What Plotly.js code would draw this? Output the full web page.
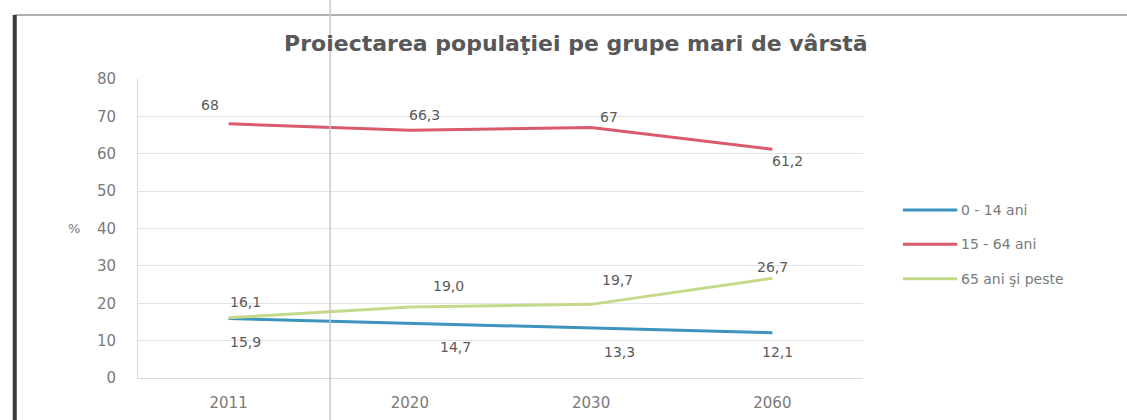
<!DOCTYPE html>
<html>
<head>
<meta charset="utf-8">
<script src="https://cdn.plot.ly/plotly-3.0.1.min.js"></script>
<style>
html,body{margin:0;padding:0;background:#fff;}
#chart{width:1127px;height:420px;}
</style>
</head>
<body>
<div id="chart"></div>
<script>
const years = ['2011', '2020', '2030', '2060'];
const seriesNames = ['0 - 14 ani', '15 - 64 ani', '65 ani şi peste'];
const age0to14 = [15.9, 14.7, 13.3, 12.1];
const age15to64 = [68, 66.3, 67, 61.2];
const age65plus = [16.1, 19.0, 19.7, 26.7];
const yTicks = [0, 10, 20, 30, 40, 50, 60, 70, 80];

const colors = ['#3c93bd', '#d95a6c', '#c4d98a'];
const seriesValues = [age0to14, age15to64, age65plus];
const decimals = [1, null, 1];
// label placement: +1 above, -1 below ; horizontal nudge and vertical distance in px
const labelSide = [[-1, -1, -1, -1], [1, 1, 1, -1], [1, 1, 1, 1]];
const labelDx = [[17, 46, 28, 5], [-19, 15, 18, 15], [17, 39, 26, 0]];
const labelDy = [[23, 24, 24, 19], [19, 15, 11, 12], [16, 21, 24, 11]];

function fmt(v, d) {
  const s = d === null ? String(v) : v.toFixed(d);
  return s.replace('.', ',');
}

const traces = seriesValues.map((vals, i) => ({
  type: 'scatter',
  mode: 'lines',
  x: years,
  y: vals,
  name: seriesNames[i],
  line: {color: colors[i], width: 3},
  hoverinfo: 'skip',
  showlegend: false
}));

const annotations = [];
seriesValues.forEach((vals, i) => {
  vals.forEach((v, j) => {
    annotations.push({
      x: j, y: v, xref: 'x', yref: 'y',
      text: fmt(v, decimals[i]),
      showarrow: false,
      xshift: labelDx[i][j],
      yshift: labelSide[i][j] * labelDy[i][j],
      font: {family: 'DejaVu Sans', size: 14, color: '#5a5a5a'}
    });
  });
});
annotations.push({
  xref: 'paper', yref: 'y', x: -0.099, y: 40, text: '%', showarrow: false,
  font: {family: 'DejaVu Sans', size: 13, color: '#7a7a7a'}
});

// manual legend (line sample + name), placed to the right of the plot
const legendX0 = 1.055, legendX1 = 1.13, legendTop = 0.562, legendStep = 0.115;
const shapes = [];
seriesNames.forEach((name, i) => {
  const yy = legendTop - i * legendStep;
  shapes.push({type: 'line', xref: 'paper', yref: 'paper',
    x0: legendX0, x1: legendX1, y0: yy, y1: yy,
    line: {color: colors[i], width: 3}});
  annotations.push({xref: 'paper', yref: 'paper', x: legendX1 + 0.003, y: yy,
    xanchor: 'left', yanchor: 'middle', text: name, showarrow: false,
    font: {family: 'DejaVu Sans', size: 14, color: '#7a7a7a'}});
});

// frame remnants of the scanned chart
shapes.push(
  {type: 'line', xref: 'paper', yref: 'paper', x0: -0.17, x1: 1.37, y0: 1.214, y1: 1.214,
   line: {color: '#b0b0b0', width: 2}},
  {type: 'line', xref: 'paper', yref: 'paper', x0: -0.17, x1: -0.17, y0: 1.214, y1: -0.2,
   line: {color: '#3a3a3a', width: 4}},
  {type: 'line', xref: 'paper', yref: 'paper', x0: 0.265, x1: 0.265, y0: 1.3, y1: -0.2,
   line: {color: '#c8c8c8', width: 1.5}}
);

const layout = {
  width: 1127, height: 420,
  margin: {l: 138, r: 264, t: 79, b: 42},
  paper_bgcolor: '#ffffff',
  plot_bgcolor: '#ffffff',
  showlegend: false,
  title: {
    text: 'Proiectarea populaţiei pe grupe mari de vârstă',
    xref: 'container', yref: 'container',
    x: 0.511, y: 0.898, xanchor: 'center', yanchor: 'middle',
    font: {family: 'DejaVu Sans', size: 22, color: '#585858', weight: 'bold'}
  },
  xaxis: {
    type: 'category',
    range: [-0.5, 3.5],
    autorange: false,
    showgrid: false, zeroline: false,
    showline: true, linecolor: '#d9d9d9', linewidth: 1,
    ticks: '',
    tickangle: 0,
    ticklabelstandoff: 11,
    tickfont: {family: 'DejaVu Sans', size: 15, color: '#7a7a7a'},
    fixedrange: true
  },
  yaxis: {
    range: [0, 80],
    autorange: false,
    tickvals: yTicks,
    showgrid: true, gridcolor: '#e3e3e3', gridwidth: 1,
    zeroline: false,
    showline: true, linecolor: '#d9d9d9', linewidth: 1,
    ticks: '',
    ticklabelstandoff: 18,
    tickfont: {family: 'DejaVu Sans', size: 15, color: '#7a7a7a'},
    fixedrange: true
  },
  annotations: annotations,
  shapes: shapes
};

Plotly.newPlot('chart', traces, layout, {displayModeBar: false, staticPlot: true});
</script>
</body>
</html>
